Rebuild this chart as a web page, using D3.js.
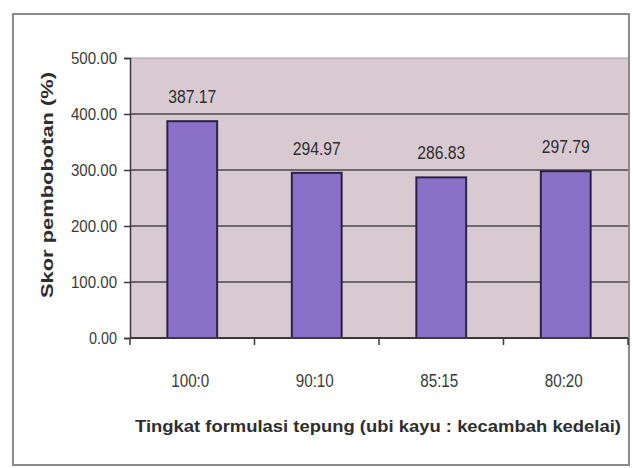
<!DOCTYPE html>
<html>
<head>
<meta charset="utf-8">
<script src="https://cdn.jsdelivr.net/npm/d3@7"></script>
<style>
  html, body { margin: 0; padding: 0; background: #ffffff; }
  svg { display: block; }
</style>
</head>
<body>
<svg id="chart" width="633" height="468"></svg>
<script>
// Flour formulation levels (cassava : soybean sprout) and weighted scores
const categories = ["100:0", "90:10", "85:15", "80:20"];
const scores = [387.17, 294.97, 286.83, 297.79];
const yTicks = [0, 100, 200, 300, 400, 500];

const svg = d3.select("#chart");
const plot = { left: 130, right: 628, top: 58, bottom: 338 };

const sans = "'Liberation Sans', Arial, sans-serif";
const ink = "#2e2e2e";

// Narrow-looking numerals: squeeze a regular face to a given width
function squeeze(sel, widthFn) {
  sel.attr("textLength", widthFn).attr("lengthAdjust", "spacingAndGlyphs");
}

// Outer chart frame
svg.append("rect")
  .attr("x", 13).attr("y", 14)
  .attr("width", 616).attr("height", 451)
  .attr("fill", "#ffffff")
  .attr("stroke", "#8a8a8a")
  .attr("stroke-width", 2);

const x = d3.scaleBand()
  .domain(categories)
  .range([plot.left, plot.right])
  .paddingInner(0.6)
  .paddingOuter(0.3);

const y = d3.scaleLinear()
  .domain([0, 500])
  .range([plot.bottom, plot.top]);

// Plot background
svg.append("rect")
  .attr("x", plot.left).attr("y", plot.top)
  .attr("width", plot.right - plot.left)
  .attr("height", plot.bottom - plot.top)
  .attr("fill", "#d9cad2");

// Horizontal gridlines
svg.append("g")
  .selectAll("line")
  .data(yTicks.filter(d => d > 0))
  .join("line")
  .attr("x1", plot.left).attr("x2", plot.right)
  .attr("y1", d => y(d)).attr("y2", d => y(d))
  .attr("stroke", d => d === 500 ? "#a89aa2" : "#4a4448")
  .attr("stroke-width", d => d === 500 ? 1 : 1.6);

// Bars
svg.append("g")
  .selectAll("rect")
  .data(scores)
  .join("rect")
  .attr("x", (d, i) => x(categories[i]))
  .attr("y", d => y(d))
  .attr("width", x.bandwidth())
  .attr("height", d => y(0) - y(d))
  .attr("fill", "#8b70c8")
  .attr("stroke", "#2a2148")
  .attr("stroke-width", 2);

// Value labels above bars
svg.append("g")
  .selectAll("text")
  .data(scores)
  .join("text")
  .attr("x", (d, i) => x(categories[i]) + x.bandwidth() / 2)
  .attr("y", d => y(d) - 18)
  .attr("text-anchor", "middle")
  .attr("font-family", sans)
  .attr("font-size", 18)
  .attr("fill", ink)
  .text(d => d.toFixed(2))
  .call(squeeze, 48);

// Y axis
const yAxis = d3.axisLeft(y)
  .tickValues(yTicks)
  .tickFormat(d3.format(".2f"))
  .tickSize(6)
  .tickPadding(7);
const gy = svg.append("g")
  .attr("transform", `translate(${plot.left},0)`)
  .call(yAxis);
gy.select(".domain").attr("stroke", "#3a3a3a").attr("stroke-width", 1.5);
gy.selectAll(".tick line").attr("stroke", "#3a3a3a").attr("stroke-width", 1.5);
gy.selectAll(".tick text")
  .attr("font-family", sans)
  .attr("font-size", 17)
  .attr("fill", "#3a3a3a")
  .call(squeeze, d => d >= 100 ? 46 : 28);

// X axis: baseline with ticks on category boundaries
const gx = svg.append("g");
gx.append("line")
  .attr("x1", plot.left).attr("x2", plot.right)
  .attr("y1", plot.bottom).attr("y2", plot.bottom)
  .attr("stroke", "#3a3a3a").attr("stroke-width", 1.8);
const boundaries = d3.range(categories.length + 1)
  .map(i => plot.left + (plot.right - plot.left) * i / categories.length);
gx.selectAll("line.tick")
  .data(boundaries)
  .join("line")
  .attr("class", "tick")
  .attr("x1", d => d).attr("x2", d => d)
  .attr("y1", plot.bottom).attr("y2", plot.bottom + 7)
  .attr("stroke", "#3a3a3a").attr("stroke-width", 1.5);
gx.selectAll("text")
  .data(categories)
  .join("text")
  .attr("x", d => x(d) + x.bandwidth() / 2 - 2)
  .attr("y", 387)
  .attr("text-anchor", "middle")
  .attr("font-family", sans)
  .attr("font-size", 18)
  .attr("fill", "#3a3a3a")
  .text(d => d)
  .call(squeeze, d => d.length > 4 ? 38 : 36);

// Axis titles
svg.append("text")
  .attr("x", 378).attr("y", 432)
  .attr("text-anchor", "middle")
  .attr("font-family", sans)
  .attr("font-weight", "bold")
  .attr("font-size", 17)
  .attr("fill", ink)
  .text("Tingkat formulasi tepung (ubi kayu : kecambah kedelai)")
  .call(squeeze, 486);

svg.append("text")
  .attr("transform", "translate(53,185) rotate(-90)")
  .attr("text-anchor", "middle")
  .attr("font-family", sans)
  .attr("font-weight", "bold")
  .attr("font-size", 17)
  .attr("fill", ink)
  .text("Skor pembobotan (%)")
  .call(squeeze, 226);
</script>
</body>
</html>
